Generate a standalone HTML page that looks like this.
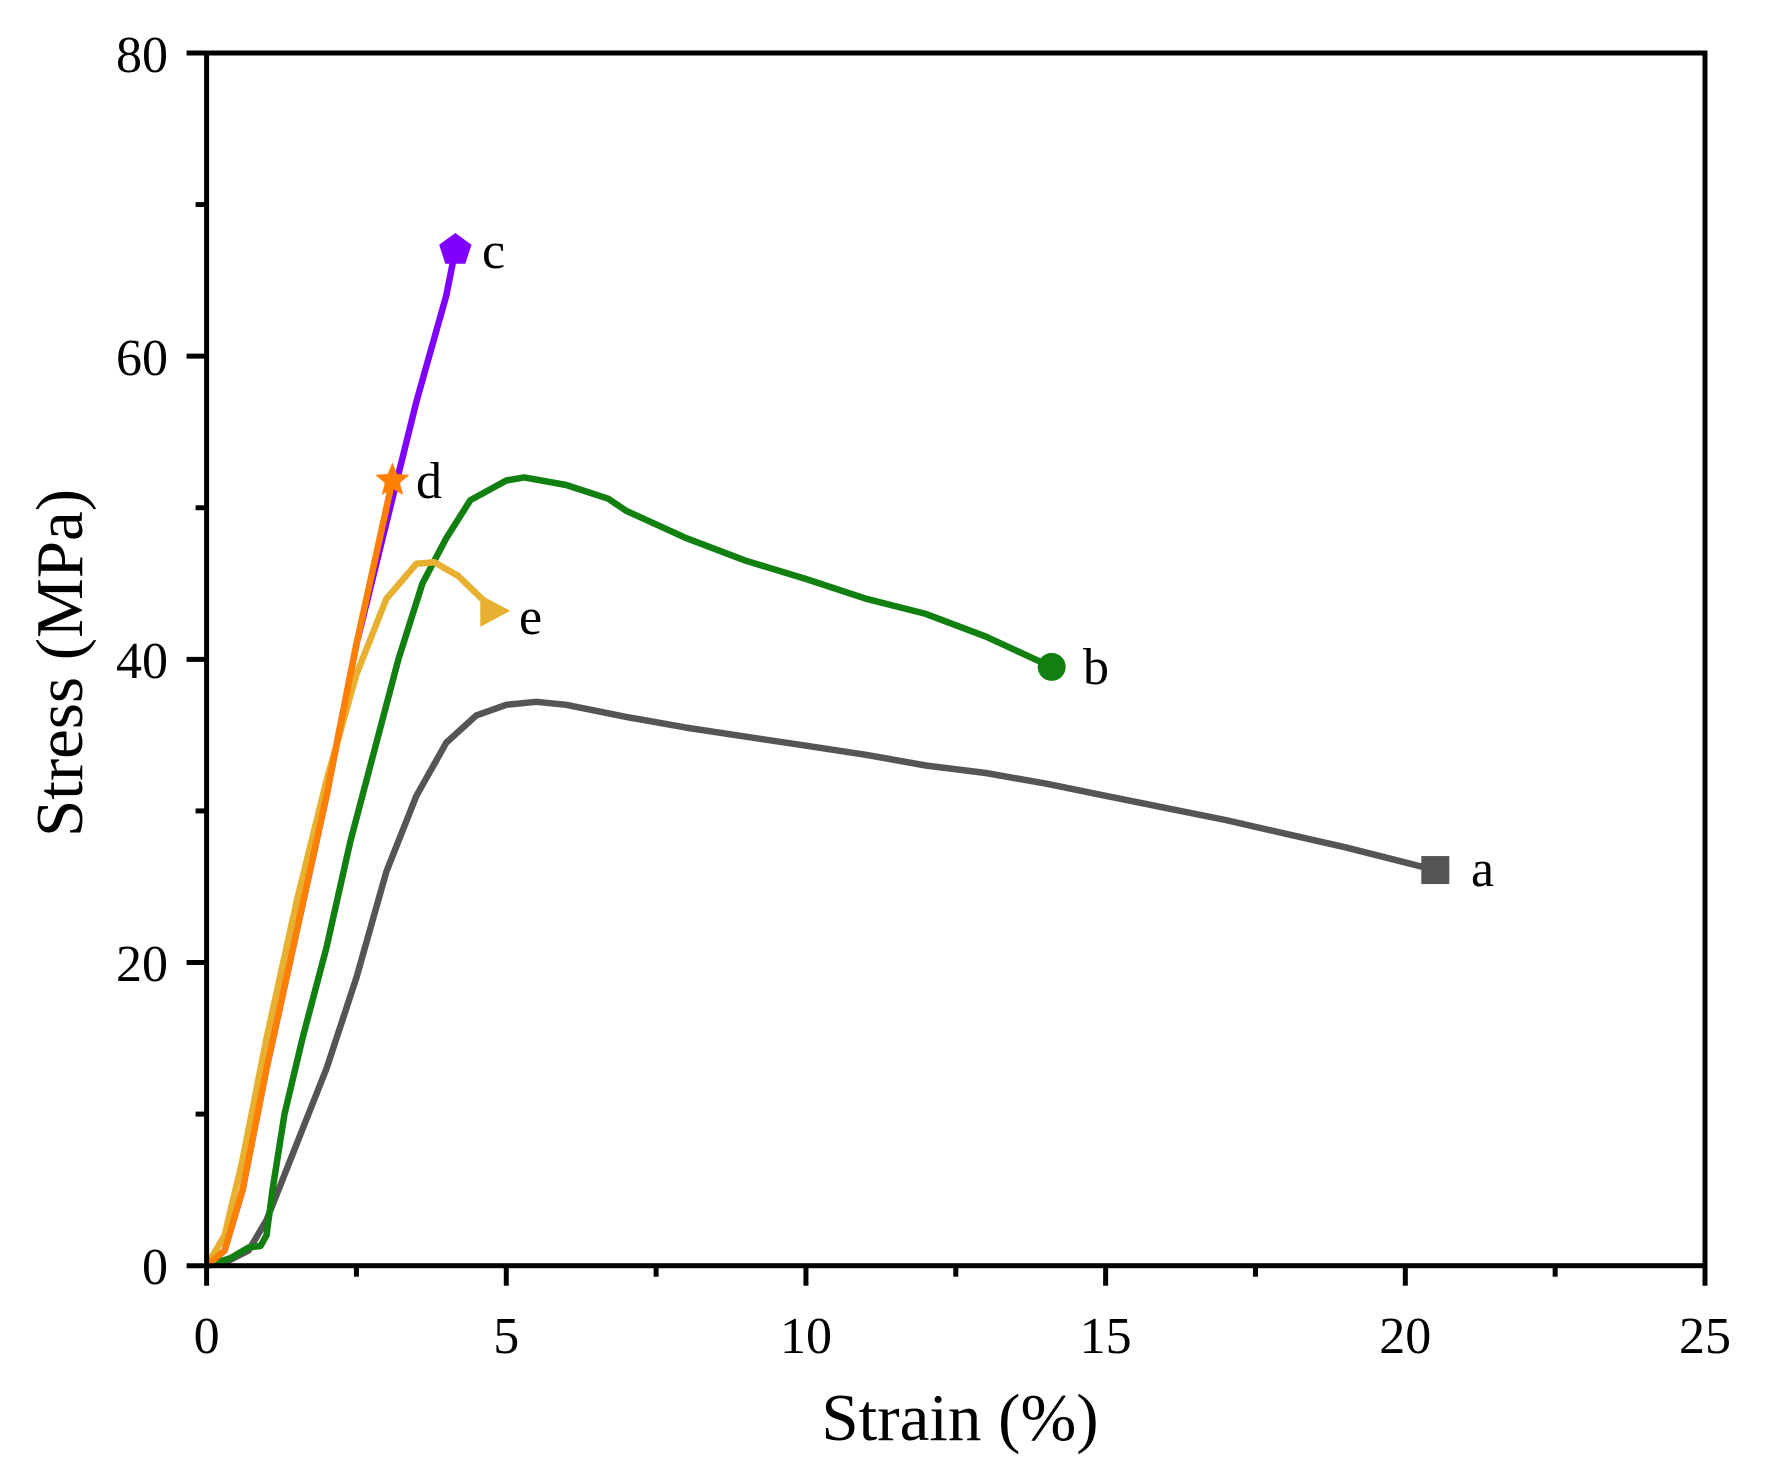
<!DOCTYPE html>
<html><head><style>html,body{margin:0;padding:0;background:#fff}svg{display:block}</style></head>
<body>
<svg id="s" width="1767" height="1478" viewBox="0 0 1767 1478" xmlns="http://www.w3.org/2000/svg" font-family="Liberation Serif, serif">
<g fill="none" stroke-width="6.5" stroke-linejoin="round" stroke-linecap="round">
<polyline id="a" stroke="#555555" points=""/>
<polyline id="b" stroke="#118011" points=""/>
<polyline id="c" stroke="#8000ff" points=""/>
<polyline id="e" stroke="#e8b030" points=""/>
<polyline id="d" stroke="#ff8000" points=""/>
</g>
<g id="marks"></g>
<rect x="206.6" y="53" width="1498.4" height="1212.7" fill="none" stroke="#000" stroke-width="5"/>
<g id="ticks" stroke="#000" stroke-width="5"></g>
<g font-size="52" fill="#000">
<text x="168" y="1284" text-anchor="end">0</text>
<text x="168" y="981" text-anchor="end">20</text>
<text x="168" y="678" text-anchor="end">40</text>
<text x="168" y="375" text-anchor="end">60</text>
<text x="168" y="72" text-anchor="end">80</text>
<text x="206.6" y="1353" text-anchor="middle">0</text>
<text x="506.3" y="1353" text-anchor="middle">5</text>
<text x="806" y="1353" text-anchor="middle">10</text>
<text x="1105.6" y="1353" text-anchor="middle">15</text>
<text x="1405.3" y="1353" text-anchor="middle">20</text>
<text x="1705" y="1353" text-anchor="middle">25</text>
<text x="1471" y="886">a</text>
<text x="1083" y="684">b</text>
<text x="482" y="268">c</text>
<text x="416" y="498">d</text>
<text x="519" y="634">e</text>
</g>
<text x="960" y="1440" font-size="67" text-anchor="middle">Strain (%)</text>
<text transform="translate(82,663) rotate(-90)" font-size="67" text-anchor="middle">Stress (MPa)</text>
<script>
const NS="http://www.w3.org/2000/svg";
const X=v=>206.6+v*59.936, Y=v=>1265.7-v*15.159;
const D={
a:[[0,0],[0.3,0.2],[0.7,1],[1,3],[1.5,8],[2,13],[2.5,19],[3,26],[3.5,31],[4,34.5],[4.5,36.3],[5,37],[5.5,37.2],[6,37],[7,36.2],[8,35.5],[9,34.9],[10,34.3],[11,33.7],[12,33],[13,32.5],[14,31.8],[15,31],[16,30.2],[17,29.4],[18,28.5],[19,27.6],[20.5,26.1]],
b:[[0,0],[0.4,0.5],[0.7,1.2],[0.9,1.3],[1,2],[1.1,5],[1.3,10],[1.6,15],[2,21],[2.4,28],[2.8,34],[3.2,40],[3.6,45],[4,48],[4.4,50.5],[5,51.8],[5.3,52],[6,51.5],[6.7,50.6],[7,49.8],[8,48],[9,46.5],[10,45.3],[11,44],[12,43],[13,41.5],[14.1,39.5]],
c:[[0,0],[0.3,1],[0.6,5],[1,13],[1.5,22],[2,31],[2.5,41],[3,49],[3.5,57],[4,64],[4.15,67]],
d:[[0,0],[0.3,1],[0.6,5],[1,13],[1.5,22],[2,31],[2.5,41],[3.1,51.8]],
e:[[0,0],[0.3,2],[0.6,7],[1,15],[1.5,24],[2,32],[2.5,39],[3,44],[3.5,46.3],[3.8,46.4],[4.2,45.5],[4.8,43.2]]};
for(const k in D)document.getElementById(k).setAttribute('points',D[k].map(p=>X(p[0]).toFixed(1)+','+Y(p[1]).toFixed(1)).join(' '));
function el(parent,tag,attrs){const e=document.createElementNS(NS,tag);for(const k in attrs)e.setAttribute(k,attrs[k]);document.getElementById(parent).appendChild(e);}
el('marks','rect',{x:X(20.5)-14,y:Y(26.1)-14,width:28,height:28,fill:'#555555'});
el('marks','circle',{cx:X(14.1),cy:Y(39.5),r:14,fill:'#118011'});
const pent=(cx,cy,r)=>[...Array(5)].map((_,i)=>{const a=-Math.PI/2+i*2*Math.PI/5;return (cx+r*Math.cos(a))+','+(cy+r*Math.sin(a))}).join(' ');
el('marks','polygon',{points:pent(X(4.15),Y(67),17),fill:'#8000ff'});
const star=(cx,cy,R,r)=>[...Array(10)].map((_,i)=>{const a=-Math.PI/2+i*Math.PI/5,q=i%2?r:R;return (cx+q*Math.cos(a))+','+(cy+q*Math.sin(a))}).join(' ');
el('marks','polygon',{points:star(X(3.1),Y(51.8),18,8),fill:'#ff8000'});
const ex=X(4.8),ey=Y(43.2);
el('marks','polygon',{points:`${ex-14},${ey-16} ${ex+16},${ey} ${ex-14},${ey+16}`,fill:'#e8b030'});
for(let i=0;i<=8;i++){const y=Y(i*10),L=i%2?11:20;el('ticks','line',{x1:206.6-L,y1:y,x2:206.6,y2:y});}
for(let i=0;i<=10;i++){const x=X(i*2.5),L=i%2?11:20;el('ticks','line',{x1:x,y1:1265.7,x2:x,y2:1265.7+L});}
</script>
</svg>
</body></html>
